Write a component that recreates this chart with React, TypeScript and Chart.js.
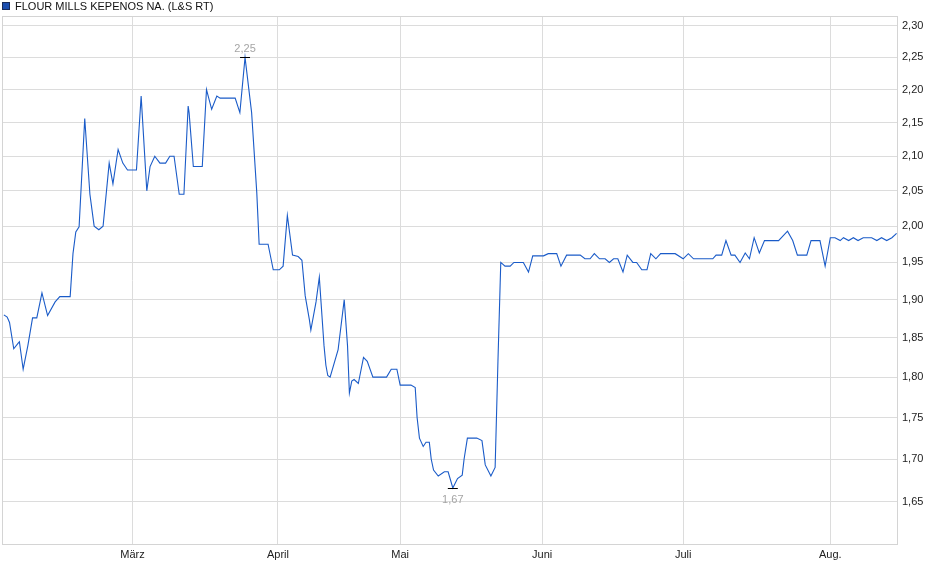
import React, { useEffect, useRef } from "react";
import { Chart, registerables } from "chart.js";

Chart.register(...registerables);

const seriesName = "FLOUR MILLS KEPENOS NA. (L&S RT)";

// x = trading-day index (one unit ≈ one trading day), y = price in EUR
const tradingDay = [
  0.2, 0.9, 1.4, 2.3, 3.2, 3.5, 4.3, 5.3, 6.3, 7.2, 8.3, 9.5, 11.1, 12.1, 14.3, 14.9, 15.5, 16.2,
  17.4, 18.5, 19.4, 20.4, 21.3, 22.6, 23.4, 24.5, 25.5, 26.5, 28.4, 29.4, 30.6, 31.3, 32.3, 33.4,
  34.6, 35.5, 36.4, 37.5, 38.5, 39.4, 39.6, 40.5, 42.4, 43.3, 44.4, 45.5, 46.2, 49.4, 50.4, 51.5,
  52.9, 54.0, 54.5, 56.4, 57.5, 58.8, 59.6, 60.5, 61.6, 62.8, 63.6, 64.3, 65.2, 65.5, 66.6, 67.3,
  68.3, 68.7, 69.1, 69.6, 71.3, 72.6, 73.3, 73.7, 74.2, 74.7, 75.6, 76.7, 77.5, 78.7, 81.6, 82.6,
  83.8, 84.5, 86.8, 87.7, 88.1, 88.6, 89.4, 90.0, 90.7, 91.1, 91.6, 92.6, 93.9, 94.7, 95.7, 96.7,
  97.7, 98.1, 98.8, 100.8, 101.9, 102.6, 103.8, 104.7, 105.3, 105.9, 106.8, 107.9, 108.7, 110.7,
  111.8, 112.7, 115.0, 116.0, 117.8, 118.7, 119.9, 122.8, 123.8, 124.9, 125.8, 126.9, 128.1, 129.0,
  129.9, 130.8, 131.9, 132.8, 134.0, 134.8, 135.9, 137.0, 137.8, 138.9, 139.9, 143.0, 144.7, 145.8,
  146.9, 151.0, 151.7, 152.9, 153.8, 154.9, 155.7, 156.8, 157.9, 158.8, 159.8, 160.9, 162.0, 165.0,
  166.9, 168.0, 169.0, 171.0, 171.9, 173.8, 174.9, 176.0, 177.0, 178.1, 178.8, 179.9, 180.9, 181.9,
  183.0, 184.8, 185.9, 186.9, 188.0, 189.1, 190.1,
];

const price = [
  1.88, 1.877, 1.87, 1.836, 1.843, 1.845, 1.81, 1.84, 1.876, 1.876, 1.909, 1.879, 1.897, 1.904, 1.904, 1.962, 1.992, 1.999,
  2.156, 2.045, 2.0, 1.995, 2.0, 2.09, 2.06, 2.11, 2.09, 2.08, 2.08, 2.19, 2.05, 2.085, 2.1, 2.09,
  2.09, 2.1, 2.1, 2.045, 2.045, 2.175, 2.165, 2.085, 2.085, 2.2, 2.17, 2.19, 2.187, 2.187, 2.165, 2.25,
  2.165, 2.047, 1.975, 1.975, 1.94, 1.94, 1.945, 2.015, 1.96, 1.958, 1.953, 1.905, 1.873, 1.86, 1.897, 1.93,
  1.84, 1.815, 1.802, 1.8, 1.835, 1.9, 1.84, 1.78, 1.795, 1.797, 1.792, 1.825, 1.82, 1.8, 1.8, 1.81,
  1.81, 1.79, 1.79, 1.787, 1.75, 1.725, 1.715, 1.72, 1.72, 1.7, 1.687, 1.68, 1.685, 1.685, 1.666, 1.677,
  1.681, 1.7, 1.725, 1.725, 1.722, 1.693, 1.68, 1.69, 1.82, 1.95, 1.945, 1.945, 1.95, 1.95,
  1.937, 1.959, 1.959, 1.962, 1.962, 1.945, 1.96, 1.96, 1.955, 1.955, 1.962, 1.955, 1.955, 1.95,
  1.955, 1.955, 1.937, 1.96, 1.95, 1.95, 1.94, 1.94, 1.962, 1.955, 1.962, 1.962, 1.955, 1.962,
  1.955, 1.955, 1.96, 1.96, 1.98, 1.96, 1.96, 1.95, 1.963, 1.955, 1.984, 1.963, 1.98, 1.98,
  1.993, 1.98, 1.96, 1.96, 1.98, 1.98, 1.945, 1.984, 1.984, 1.98, 1.984, 1.98, 1.984, 1.98,
  1.984, 1.984, 1.98, 1.984, 1.98, 1.984, 1.99,
];

const monthLabels = ["März", "April", "Mai", "Juni", "Juli", "Aug."];
const monthPositions = [27.55, 58.5, 84.5, 114.7, 144.7, 176.0];
const priceTicks = [1.65, 1.7, 1.75, 1.8, 1.85, 1.9, 1.95, 2.0, 2.05, 2.1, 2.15, 2.2, 2.25, 2.3];
const xRange = [-0.2, 190.4];
const yRange = [1.601, 2.316];

const FONT = "'Liberation Sans', Arial, sans-serif";
const GRID = "#dcdcdc";
const LINE = "#1a5bc8";

const fmt = (v: number) => v.toFixed(2).replace(".", ",");

const legendPlugin = {
  id: "customLegend",
  afterDraw(chart: any) {
    const ctx = chart.ctx;
    ctx.save();
    ctx.fillStyle = "#1c4fb0";
    ctx.fillRect(3, 3, 6, 6);
    ctx.strokeStyle = "#1a2c5a";
    ctx.lineWidth = 1;
    ctx.strokeRect(2.5, 2.5, 7, 7);
    ctx.fillStyle = "#111";
    ctx.font = `11px ${FONT}`;
    ctx.textBaseline = "middle";
    ctx.textAlign = "left";
    ctx.fillText(seriesName, 15, 6.5);
    ctx.restore();
  },
};

const framePlugin = {
  id: "frame",
  beforeDatasetsDraw(chart: any) {
    const { ctx, chartArea } = chart;
    ctx.save();
    ctx.strokeStyle = "#d4d4d4";
    ctx.lineWidth = 1;
    ctx.strokeRect(
      Math.round(chartArea.left) + 0.5,
      Math.round(chartArea.top) + 0.5,
      Math.round(chartArea.right - chartArea.left) - 1,
      Math.round(chartArea.bottom - chartArea.top) - 1
    );
    ctx.restore();
  },
};

const extremaPlugin = {
  id: "extrema",
  afterDatasetsDraw(chart: any) {
    const { ctx, scales } = chart;
    let maxI = 0;
    let minI = 0;
    price.forEach((p, i) => {
      if (p > price[maxI]) maxI = i;
      if (p < price[minI]) minI = i;
    });
    const draw = (i: number, above: boolean) => {
      const x = scales.x.getPixelForValue(tradingDay[i]);
      const y = Math.round(scales.y.getPixelForValue(price[i])) + 0.5;
      ctx.save();
      ctx.strokeStyle = "#000";
      ctx.lineWidth = 1;
      ctx.beginPath();
      ctx.moveTo(x - 5, y);
      ctx.lineTo(x + 5, y);
      ctx.stroke();
      ctx.fillStyle = "#a5a5a5";
      ctx.font = `11px ${FONT}`;
      ctx.textAlign = "center";
      ctx.textBaseline = "middle";
      ctx.fillText(fmt(price[i]), x, above ? y - 9 : y + 11);
      ctx.restore();
    };
    draw(maxI, true);
    draw(minI, false);
  },
};

export default function App() {
  const ref = useRef<HTMLCanvasElement | null>(null);

  useEffect(() => {
    document.body.style.margin = "0";
    if (!ref.current) return;
    const chart = new Chart(ref.current, {
      type: "line",
      data: {
        datasets: [
          {
            label: seriesName,
            data: tradingDay.map((d, i) => ({ x: d, y: price[i] })),
            borderColor: LINE,
            backgroundColor: LINE,
            borderWidth: 1.1,
            pointRadius: 0,
            tension: 0,
            fill: false,
          },
        ],
      },
      options: {
        animation: false,
        responsive: false,
        maintainAspectRatio: false,
        devicePixelRatio: 1,
        layout: { padding: { left: 2, top: 16, right: 0, bottom: 0 } },
        plugins: {
          legend: { display: false },
          tooltip: { enabled: false },
        },
        scales: {
          x: {
            type: "linear",
            min: xRange[0],
            max: xRange[1],
            afterBuildTicks: (s: any) => {
              s.ticks = monthPositions.map((v) => ({ value: v }));
            },
            afterFit: (s: any) => {
              s.height = 34;
            },
            ticks: {
              autoSkip: false,
              maxRotation: 0,
              padding: 3,
              color: "#222",
              font: { family: FONT, size: 11 },
              callback: (_v: any, i: number) => monthLabels[i],
            },
            grid: { color: GRID, drawTicks: false, lineWidth: 1 },
            border: { display: false },
          },
          y: {
            type: "logarithmic",
            position: "right",
            min: yRange[0],
            max: yRange[1],
            afterBuildTicks: (s: any) => {
              s.ticks = priceTicks.map((v) => ({ value: v }));
            },
            afterFit: (s: any) => {
              s.width = 42;
            },
            ticks: {
              padding: 4,
              color: "#222",
              font: { family: FONT, size: 11 },
              callback: (v: any) => fmt(Number(v)),
            },
            grid: { color: GRID, drawTicks: false, lineWidth: 1 },
            border: { display: false },
          },
        },
      },
      plugins: [framePlugin, extremaPlugin, legendPlugin],
    });
    return () => chart.destroy();
  }, []);

  return (
    <div style={{ width: 940, height: 579, background: "#fff" }}>
      <canvas ref={ref} width={940} height={579} style={{ display: "block" }} />
    </div>
  );
}
